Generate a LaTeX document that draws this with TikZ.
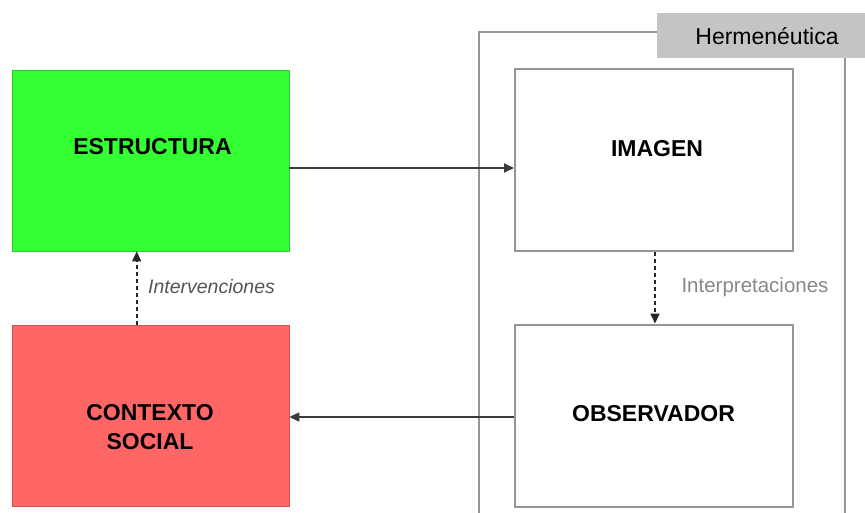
\documentclass[tikz,border=0pt]{standalone}
\usepackage{fontspec}
\setmainfont{Liberation Sans}
\usetikzlibrary{arrows.meta}
\definecolor{boxgreen}{HTML}{33FF33}
\definecolor{boxred}{HTML}{FF6666}
\definecolor{framegray}{HTML}{969696}
\definecolor{tabgray}{HTML}{C4C4C4}
\definecolor{linegray}{HTML}{3A3A3A}
\definecolor{labgray}{HTML}{555555}
\definecolor{labgrayb}{HTML}{888888}
\begin{document}
\begin{tikzpicture}[x=1pt,y=-1pt,
  colbox/.style={draw=#1!80!black,line width=0.8pt,fill=#1,minimum width=277pt,minimum height=181pt,inner sep=0pt},
  whitebox/.style={draw=framegray,line width=2pt,fill=white,minimum width=278pt,minimum height=182pt,inner sep=0pt},
  title/.style={font=\bfseries\fontsize{23}{29}\selectfont,align=center,inner sep=0pt},
  flow/.style={draw=linegray,line width=2pt,-{Triangle[length=10pt,width=9pt]}},
  dflow/.style={draw=black!85,line width=1.6pt,dashed,dash pattern=on 4pt off 3pt,-{Triangle[length=10pt,width=9pt]}},
  framel/.style={draw=framegray,line width=2.6pt}]
\useasboundingbox[fill=white] (0,0) rectangle (865,513);
% hermeneutica frame
\coordinate (fTL) at (479,32);
\coordinate (fTR) at (657,32);
\coordinate (fBL) at (479,513);
\coordinate (fRT) at (845,58);
\coordinate (fRB) at (845,513);
\draw[framel] (fTR) -- (fTL) -- (fBL);
\draw[framel] (fRT) -- (fRB);
\node[fill=tabgray,minimum width=208pt,minimum height=45pt,inner sep=0pt,anchor=north west] (tab) at (657,13) {};
\node[font=\fontsize{23}{27}\selectfont,anchor=base,inner sep=0pt] (herm) at (767,45) {Hermenéutica};
% boxes
\node[colbox=boxgreen] (estr) at (150.5,160.5) {};
\node[colbox=boxred] (ctx) at (150.5,415.5) {};
\node[whitebox] (img) at (654,160) {};
\node[whitebox] (obs) at (654,415.5) {};
\node[title] (testr) at (152.5,146.5) {ESTRUCTURA};
\node[title] (tctx) at (150,427.5) {CONTEXTO\\SOCIAL};
\node[title] (timg) at (657,148.5) {IMAGEN};
\node[title] (tobs) at (653.5,413.5) {OBSERVADOR};
% connectors
\draw[flow] (estr.east |- 0,168) -- (img.west |- 0,168);
\draw[flow] (obs.west |- 0,417) -- (ctx.east |- 0,417);
\draw[dflow] (ctx.north -| 136.7,0) -- (estr.south -| 136.7,0);
\draw[dflow] (img.south -| 655,0) -- (obs.north -| 655,0);
\node[font=\itshape\fontsize{19.5}{23}\selectfont,text=labgray,anchor=base,inner sep=0pt] (linter) at (211.5,293) {Intervenciones};
\node[font=\fontsize{20.5}{24}\selectfont,text=labgrayb,anchor=base,inner sep=0pt] (linterp) at (755,292) {Interpretaciones};
\end{tikzpicture}
\end{document}
